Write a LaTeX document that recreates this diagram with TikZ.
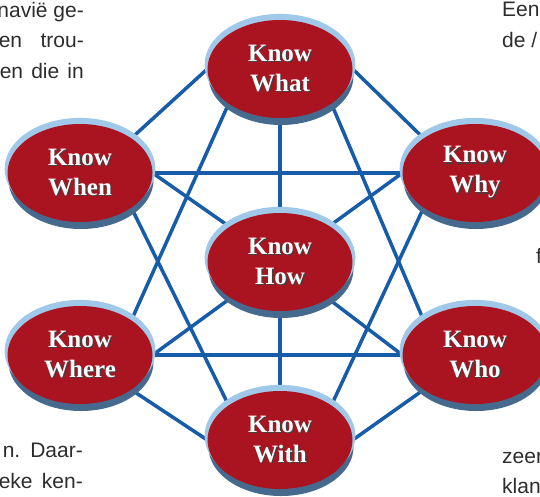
\documentclass[tikz,border=0pt]{standalone}
\usepackage{fontspec}
\setmainfont{Liberation Serif}
\newfontfamily\fontepagina{Liberation Sans}
\usetikzlibrary{shapes.geometric,shadows,backgrounds}
\definecolor{vermelhoescuro}{RGB}{170,20,32}
\definecolor{azulclaro}{RGB}{160,200,232}
\definecolor{azulaco}{RGB}{70,106,142}
\definecolor{azullinha}{RGB}{22,92,168}
\definecolor{cinzatexto}{RGB}{45,45,45}
\newcommand\relevo[1]{\leavevmode\rlap{\kern1.3pt\raisebox{-1.3pt}{\textcolor{black!75}{#1}}}#1}
\tikzset{
  saber/.style={ellipse,fill=vermelhoescuro,minimum width=145pt,minimum height=98pt,
    inner sep=0pt,align=center,text=white,font=\bfseries\fontsize{25}{30}\selectfont,
    general shadow={fill=azulaco,shadow xshift=1pt,shadow yshift=-7pt},
    general shadow={fill=azulclaro,shadow scale=1.04,shadow yshift=4pt}},
  ligacao/.style={azullinha,line width=3.5pt},
  pagina/.style={inner sep=0pt,text=cinzatexto,font=\fontepagina\fontsize{21}{25}\selectfont}
}

\begin{document}
\begin{tikzpicture}[x=1pt,y=-1pt]
  \useasboundingbox (0,0) rectangle (540,496);
  \clip (0,0) rectangle (540,496);
  % os sete saberes
  \node[saber] (what)  at (280,69)  {\relevo{Know}\\\relevo{What}};
  \node[saber] (when)  at (80,173)  {\relevo{Know}\\\relevo{When}};
  \node[saber] (why)   at (475,173) {\relevo{Know}\\\relevo{Why}};
  \node[saber] (how)   at (280,262) {\relevo{Know}\\\relevo{How}};
  \node[saber] (where) at (80,355)  {\relevo{Know}\\\relevo{Where}};
  \node[saber] (who)   at (475,355) {\relevo{Know}\\\relevo{Who}};
  \node[saber] (with)  at (280,440) {\relevo{Know}\\\relevo{With}};
  % ligacoes
  \begin{scope}[on background layer]
    \draw[ligacao] (when.north east) -- (what.west);
    \draw[ligacao] (what.east) -- (why.north west);
    \draw[ligacao] (where.south east) -- (with.west);
    \draw[ligacao] (with.east) -- (who.south west);
    \draw[ligacao] (when.east) -- (why.west);
    \draw[ligacao] (when.south east) -- (with.north west);
    \draw[ligacao] (why.south west) -- (with.north east);
    \draw[ligacao] (where.east) -- (who.west);
    \draw[ligacao] (what.south west) -- (where.north east);
    \draw[ligacao] (what.south east) -- (who.north west);
    \draw[ligacao] (what.center) -- (with.center);
    \foreach \lado in {when.east,why.west,where.east,who.west}
      \draw[ligacao] (how.center) -- (\lado);
  \end{scope}
  % restos do texto da pagina
  \node[pagina,anchor=base east] (esq1) at (84,17) {navië ge-};
  \node[pagina,anchor=base east] (esq2) at (84,47.5) {\makebox[85pt][s]{en trou-}};
  \node[pagina,anchor=base east] (esq3) at (84,78) {\makebox[84pt][s]{en die in}};
  \node[pagina,anchor=base east] (esq4) at (83,457) {\makebox[80pt][s]{n. Daar-}};
  \node[pagina,anchor=base east] (esq5) at (83,488) {\makebox[84pt][s]{eke ken-}};
  \node[pagina,anchor=base west] (dir1) at (502,16) {Een};
  \node[pagina,anchor=base west] (dir2) at (502,47) {de /};
  \node[pagina,anchor=base west] (dir3) at (536,263) {f};
  \node[pagina,anchor=base west] (dir4) at (502,463) {zeer};
  \node[pagina,anchor=base west] (dir5) at (502,493) {klan};
\end{tikzpicture}
\end{document}
